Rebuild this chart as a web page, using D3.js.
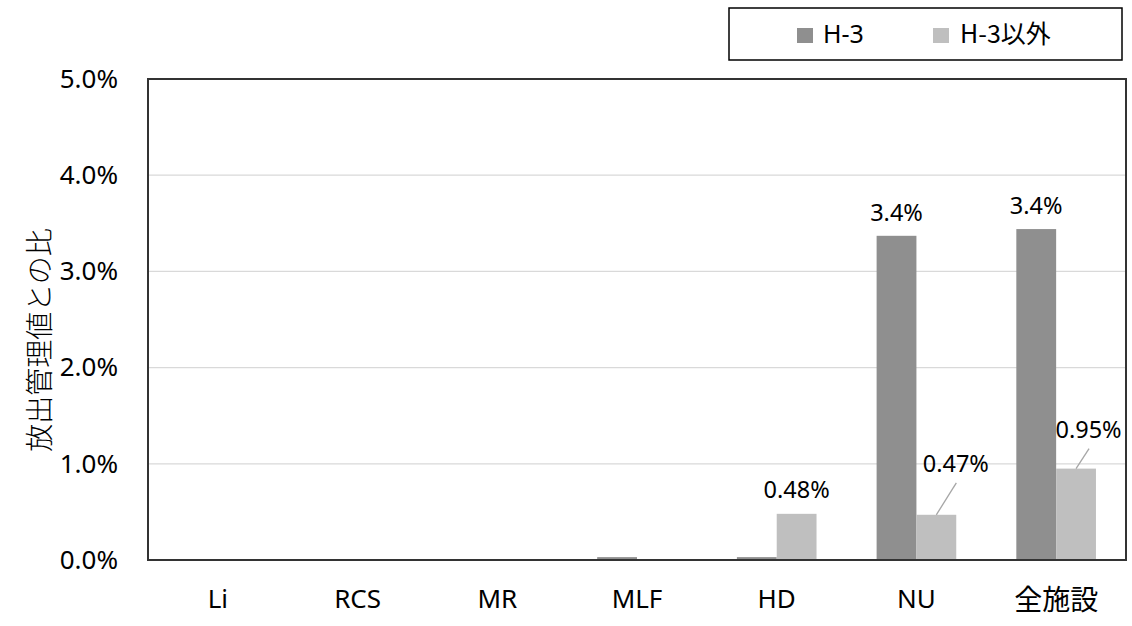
<!DOCTYPE html>
<html><head><meta charset="utf-8">
<script src="https://cdn.jsdelivr.net/npm/d3@7"></script>
<style>
body{margin:0;background:#fff;}
text{font-family:"Noto Sans CJK JP","Noto Sans",sans-serif;fill:#000;}
</style></head>
<body><svg id="chart" width="1132" height="626"></svg>
<script>
const categories = ["Li","RCS","MR","MLF","HD","NU","全施設"];
const seriesNames = ["H-3","H-3以外"];
const h3Values = [0, 0, 0, 0.03, 0.03, 3.37, 3.44];
const otherValues = [0, 0, 0, 0, 0.48, 0.47, 0.95];
const h3Labels = [null, null, null, null, null, "3.4%", "3.4%"];
const otherLabels = [null, null, null, null, "0.48%", "0.47%", "0.95%"];
const yTicks = [0, 1, 2, 3, 4, 5];
const colors = ["#8f8f8f", "#bfbfbf"];

const latin = '"Noto Sans","Noto Sans CJK JP",sans-serif';
const cjk = '"Noto Sans CJK JP","Noto Sans",sans-serif';

const svg = d3.select("#chart");
const m = {left:148, right:1126, top:79, bottom:560};

const x = d3.scaleBand().domain(categories).range([m.left, m.right]).paddingInner(0.43).paddingOuter(0.215);
const xs = d3.scaleBand().domain(seriesNames).range([0, x.bandwidth()]);
const y = d3.scaleLinear().domain([0, 5]).range([m.bottom, m.top]);

// gridlines
svg.append("g").selectAll("line").data(yTicks.slice(1,5)).join("line")
  .attr("x1", m.left).attr("x2", m.right)
  .attr("y1", d=>y(d)).attr("y2", d=>y(d))
  .attr("stroke", "#d9d9d9").attr("stroke-width", 1.3);

// y tick labels
const yAxis = svg.append("g").attr("transform", `translate(${m.left},0)`)
  .call(d3.axisLeft(y).tickValues(yTicks).tickFormat(d=>d.toFixed(1)+"%").tickSize(0).tickPadding(30));
yAxis.select(".domain").remove();
yAxis.selectAll("text").attr("font-size", 26).style("font-family", latin).attr("fill","#111");

// bars
const data = categories.map((c,i)=>({c, vals:[h3Values[i], otherValues[i]]}));
const groups = svg.append("g").selectAll("g").data(data).join("g")
  .attr("transform", d=>`translate(${x(d.c)},0)`);
groups.selectAll("rect").data(d=>d.vals.map((v,j)=>({v, s:seriesNames[j], j}))).join("rect")
  .attr("x", d=>xs(d.s)).attr("width", xs.bandwidth())
  .attr("y", d=>y(d.v)).attr("height", d=>y(0)-y(d.v))
  .attr("fill", d=>colors[d.j]);

// plot border
svg.append("rect").attr("x", m.left).attr("y", m.top)
  .attr("width", m.right-m.left).attr("height", m.bottom-m.top)
  .attr("fill","none").attr("stroke","#333").attr("stroke-width",2);

// x category labels
const xAxis = svg.append("g").attr("transform", `translate(0,${m.bottom})`)
  .call(d3.axisBottom(x).tickSize(0).tickPadding(30));
xAxis.select(".domain").remove();
xAxis.selectAll("text")
  .attr("font-size", d=>/[^\x00-\x7F]/.test(d) ? 28 : 26)
  .style("font-family", d=>/[^\x00-\x7F]/.test(d) ? cjk : latin)
  .attr("fill","#111");

// value labels
const labelSize = 23.5;
categories.forEach((c,i)=>{
  const cx0 = x(c) + xs("H-3") + xs.bandwidth()/2;
  const cx1 = x(c) + xs("H-3以外") + xs.bandwidth()/2;
  if(h3Labels[i]){
    svg.append("text").attr("x", cx0).attr("y", y(h3Values[i]) - 15)
      .attr("text-anchor","middle").attr("font-size", labelSize).style("font-family", latin).text(h3Labels[i]);
  }
  if(otherLabels[i]){
    const top = y(otherValues[i]);
    if(c === "HD"){
      svg.append("text").attr("x", cx1).attr("y", top - 16)
        .attr("text-anchor","middle").attr("font-size", labelSize).style("font-family", latin).text(otherLabels[i]);
    } else {
      // label lifted above the neighbouring bar, with a leader line
      const o = c === "NU" ? {lx:20, ly:32, tx:19.5, ty:43} : {lx:13, ly:20, tx:12.5, ty:31};
      svg.append("line").attr("x1", cx1).attr("y1", top)
        .attr("x2", cx1 + o.lx).attr("y2", top - o.ly)
        .attr("stroke","#a6a6a6").attr("stroke-width",1.3);
      svg.append("text").attr("x", cx1 + o.tx).attr("y", top - o.ty)
        .attr("text-anchor","middle").attr("font-size", labelSize).style("font-family", latin).text(otherLabels[i]);
    }
  }
});

// y axis title
svg.append("text").attr("transform", "translate(50,340) rotate(-90)")
  .attr("text-anchor","middle").attr("font-size", 28).attr("font-weight", 300)
  .style("font-family", cjk).attr("fill","#222").text("放出管理値との比");

// legend
const lg = svg.append("g");
lg.append("rect").attr("x",729).attr("y",8).attr("width",393).attr("height",52)
  .attr("fill","#fff").attr("stroke","#000").attr("stroke-width",1.5);
const legX = [797, 933];
seriesNames.forEach((s,j)=>{
  lg.append("rect").attr("x",legX[j]).attr("y",28).attr("width",16).attr("height",15).attr("fill",colors[j]);
  lg.append("text").attr("x",legX[j]+ (j===0?26:27)).attr("y",43).attr("font-size",25)
    .style("font-family", j===0 ? latin : cjk).text(s);
});
</script></body></html>
